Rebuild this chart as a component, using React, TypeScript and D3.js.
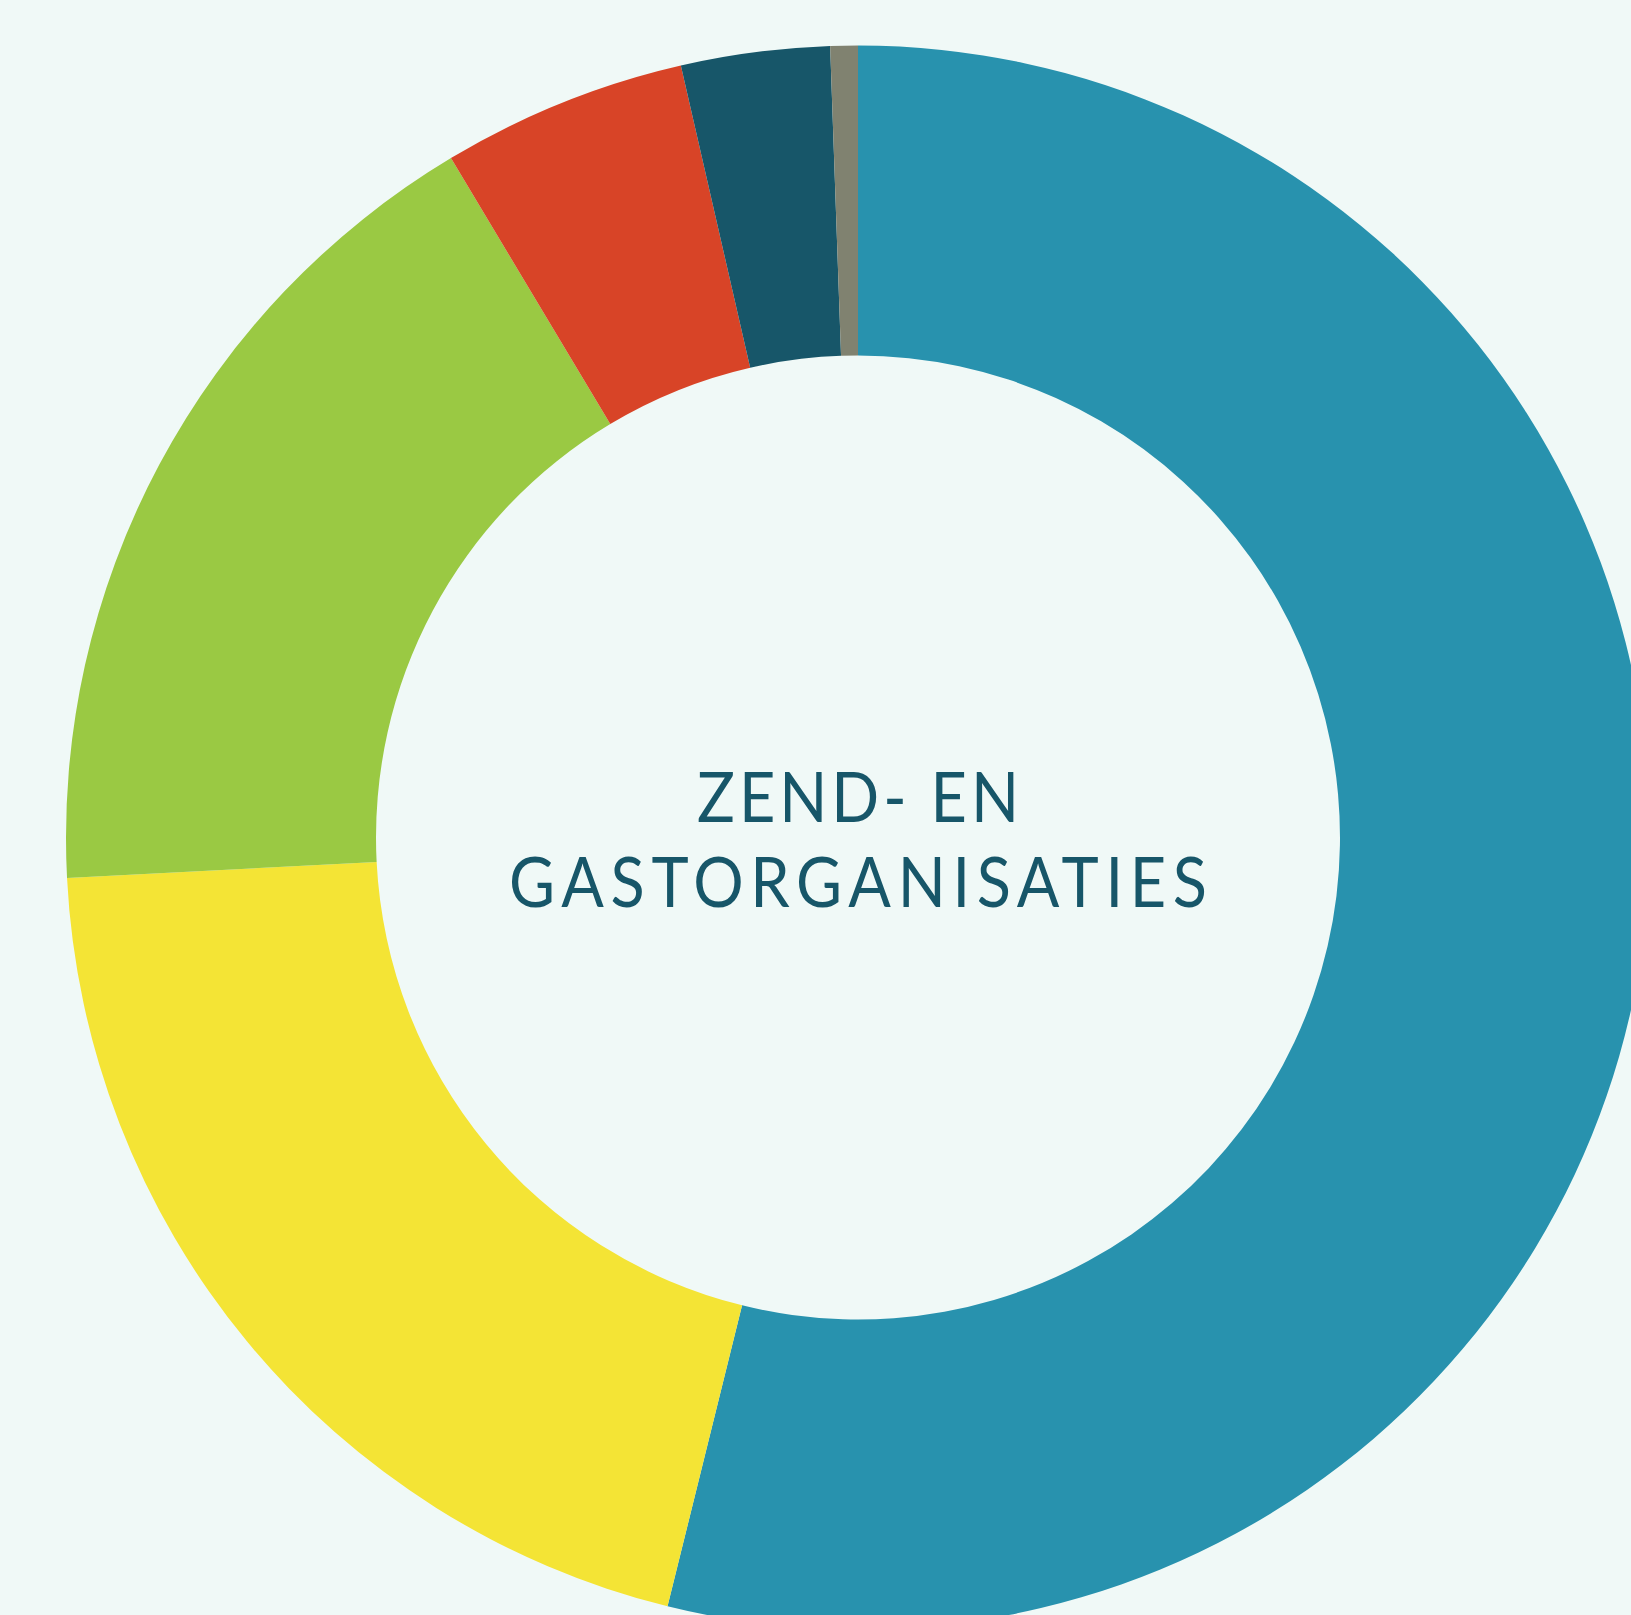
import * as d3 from "d3";

// aandeel per categorie, met de klok mee vanaf 12 uur
const categories = ["blauw", "geel", "groen", "rood", "donker", "grijs"];
const values = [53.86, 20.32, 17.22, 5.0, 3.03, 0.56];
const colors = ["#2892ae", "#f4e435", "#9ac943", "#d84427", "#175669", "#808270"];
const titleLines = ["ZEND- EN", "GASTORGANISATIES"];

const SIZE = { width: 1631, height: 1615 };
const BG = "#f0f9f7";

const DONUT = {
  cx: 858,
  cy: 837.5,
  outer: 792,
  inner: 482,
};

const TITLE = {
  fontSize: 70,
  fontFamily: "Lato, 'Open Sans', sans-serif",
  color: "#175669",
  baselines: [822, 907],
  widths: [322, 698],
  squeeze: 0.9, // smallere letters, zoals een condensed letter
};

export default function App() {
  const pie = d3
    .pie<number>()
    .sort(null)
    .value((d) => d);
  const arc = d3
    .arc<d3.PieArcDatum<number>>()
    .innerRadius(DONUT.inner)
    .outerRadius(DONUT.outer);

  const slices = pie(values);

  return (
    <svg
      width={SIZE.width}
      height={SIZE.height}
      style={{ position: "absolute", left: 0, top: 0, display: "block" }}
    >
      <rect width={SIZE.width} height={SIZE.height} fill={BG} />
      <g transform={`translate(${DONUT.cx},${DONUT.cy})`}>
        {slices.map((s, i) => (
          <path key={categories[i]} d={arc(s) ?? ""} fill={colors[i]} />
        ))}
      </g>
      {titleLines.map((line, i) => (
        <text
          key={line}
          transform={`translate(${DONUT.cx},${TITLE.baselines[i]}) scale(${TITLE.squeeze},1)`}
          textAnchor="middle"
          fontSize={TITLE.fontSize}
          fontFamily={TITLE.fontFamily}
          fill={TITLE.color}
          textLength={TITLE.widths[i] / TITLE.squeeze}
          lengthAdjust="spacing"
        >
          {line}
        </text>
      ))}
    </svg>
  );
}
